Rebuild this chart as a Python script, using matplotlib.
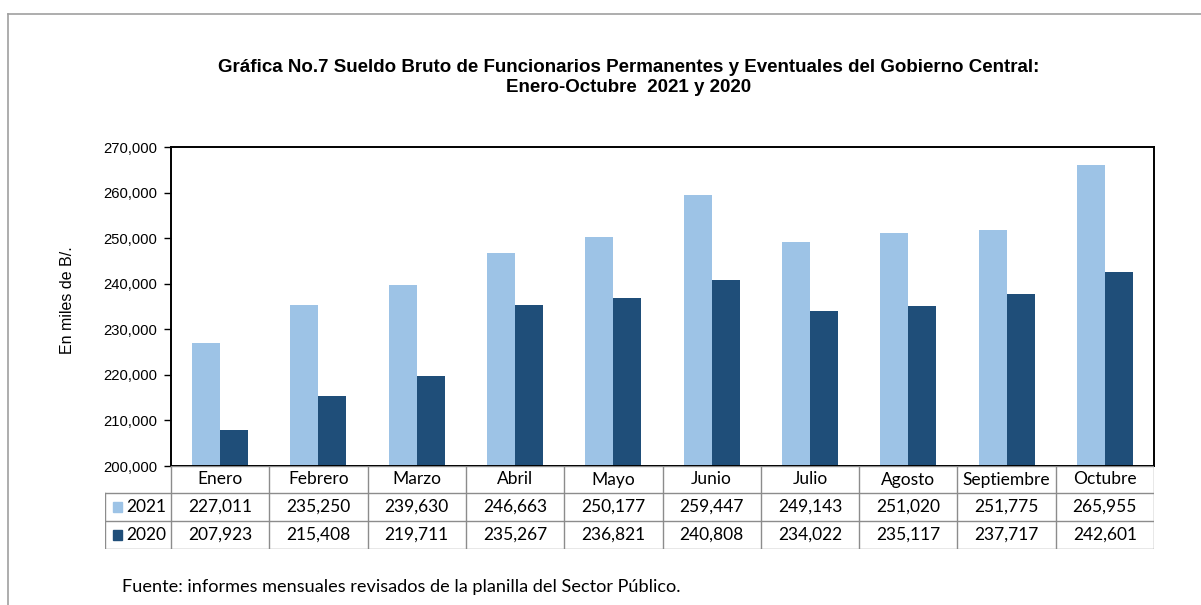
import matplotlib
matplotlib.use("Agg")
import matplotlib.pyplot as plt
from matplotlib.lines import Line2D
from matplotlib.patches import Rectangle

months = ["Enero", "Febrero", "Marzo", "Abril", "Mayo", "Junio", "Julio",
          "Agosto", "Septiembre", "Octubre"]
series_names = ["2021", "2020"]
values_2021 = [227011, 235250, 239630, 246663, 250177, 259447, 249143, 251020, 251775, 265955]
values_2020 = [207923, 215408, 219711, 235267, 236821, 240808, 234022, 235117, 237717, 242601]
yticks = [200000, 210000, 220000, 230000, 240000, 250000, 260000, 270000]

c21 = "#9DC3E6"
c20 = "#1F4E79"
W, H = 1201, 605
fig = plt.figure(figsize=(W / 100, H / 100), dpi=100)

def fx(px):
    return px / W

def fy(py):
    return 1 - py / H

# outer border
fig.add_artist(Line2D([fx(8), 1.0], [fy(14), fy(14)], color="#a0a0a0", lw=1.2))
fig.add_artist(Line2D([fx(8), fx(8)], [fy(14), 0.0], color="#a0a0a0", lw=1.2))

L, R, T, B = 171, 1154, 147, 466
ax = fig.add_axes([fx(L), fy(B), fx(R) - fx(L), fy(T) - fy(B)])
x = list(range(len(months)))
bw = 0.285
ax.bar([i - bw / 2 for i in x], values_2021, width=bw, color=c21, zorder=2)
ax.bar([i + bw / 2 for i in x], values_2020, width=bw, color=c20, zorder=2)
ax.set_xlim(-0.5, len(months) - 0.5)
ax.set_ylim(200000, 270000)
ax.set_yticks(yticks)
ax.set_yticklabels([f"{v:,}" for v in yticks], fontsize=10.6, family="Liberation Sans")
ax.set_xticks([])
ax.tick_params(axis="y", direction="out", length=5, width=1, pad=5)
for s in ax.spines.values():
    s.set_linewidth(1.4)
    s.set_color("black")
fig.text(fx(67), fy(300), "En miles de B/.", rotation=90, ha="center", va="center",
         fontsize=11.5, family="Liberation Sans")

# data table
unit = (R - L) / len(months)
TL = 105
tax = fig.add_axes([fx(TL), fy(549), fx(R) - fx(TL), fy(466) - fy(549)])
tax.set_xlim(-0.5 - (L - TL) / unit, len(months) - 0.5)
tax.set_ylim(0, 83)
tax.axis("off")
x0 = -0.5 - (L - TL) / unit
gcol = "#8c8c8c"
rows_y = [83, 56, 28, 0]
tax.plot([-0.5, len(months) - 0.5], [83, 83], color=gcol, lw=1)
for yy in rows_y[1:]:
    tax.plot([x0, len(months) - 0.5], [yy, yy], color=gcol, lw=1)
tax.plot([x0, x0], [0, 56], color=gcol, lw=1)
for k in range(len(months) + 1):
    tax.plot([k - 0.5, k - 0.5], [0, 83], color=gcol, lw=1)
tf = dict(fontsize=12.5, family="Lato", ha="center", va="center")
for i, m in enumerate(months):
    tax.text(i, 69.5, m, **tf)
    tax.text(i, 42, f"{values_2021[i]:,}", **tf)
    tax.text(i, 14, f"{values_2020[i]:,}", **tf)
sq = 9 / unit
for yc, name, col in [(42, series_names[0], c21), (14, series_names[1], c20)]:
    tax.add_patch(Rectangle((x0 + 8 / unit, yc - 5), sq, 10, color=col, clip_on=False))
    tax.text(x0 + 21 / unit, yc, name, fontsize=12.5, family="Lato", ha="left", va="center")

fig.text(fx(629), fy(68), "Gráfica No.7 Sueldo Bruto de Funcionarios Permanentes y Eventuales del Gobierno Central:",
         ha="center", va="center", fontsize=13.5, fontweight="bold", family="Liberation Sans")
fig.text(fx(629), fy(87), "Enero-Octubre  2021 y 2020",
         ha="center", va="center", fontsize=13.5, fontweight="bold", family="Liberation Sans")
fig.text(fx(122), fy(587), "Fuente: informes mensuales revisados de la planilla del Sector Público.",
         ha="left", va="center", fontsize=13.1, family="Lato")

fig.savefig("out.png", dpi=100)
